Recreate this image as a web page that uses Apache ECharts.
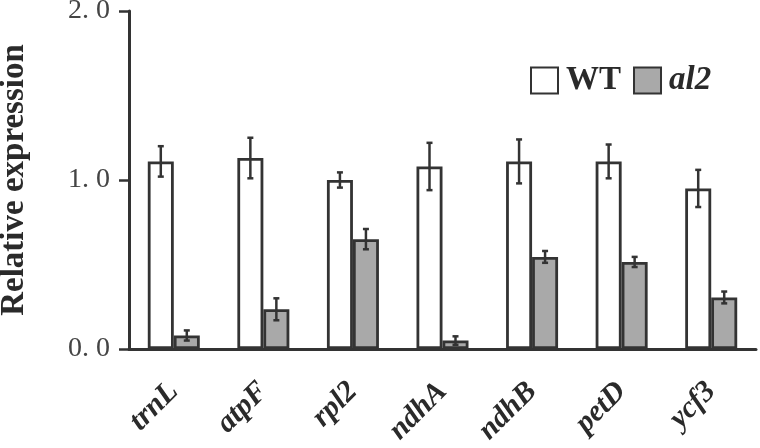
<!DOCTYPE html>
<html>
<head>
<meta charset="utf-8">
<script src="https://cdn.jsdelivr.net/npm/echarts@6/dist/echarts.min.js"></script>
<style>
  html, body { margin: 0; padding: 0; background: #fff; }
  #chart { width: 760px; height: 448px; }
</style>
</head>
<body>
<div id="chart"></div>
<script>
// genes on the x axis
var genes = ["trnL", "atpF", "rpl2", "ndhA", "ndhB", "petD", "ycf3"];
// relative expression
var wtValues = [1.11, 1.13, 1.00, 1.08, 1.11, 1.11, 0.95];
var wtErrors = [0.09, 0.12, 0.045, 0.14, 0.13, 0.10, 0.11];
var al2Values = [0.08, 0.235, 0.65, 0.05, 0.545, 0.515, 0.305];
var al2Errors = [0.03, 0.065, 0.06, 0.025, 0.035, 0.03, 0.035];
var yTicks = ["0. 0", "1. 0", "2. 0"];

var ink = "#333";
var serif = '"Liberation Serif", "Times New Roman", serif';
var barW = 26;

function errorSeries(values, errors, side) {
  return {
    type: "custom",
    z: 5,
    silent: true,
    data: values.map(function (v, i) { return [i, v, errors[i]]; }),
    renderItem: function (params, api) {
      var mid = api.coord([api.value(0), api.value(1)]);
      var hi = api.coord([api.value(0), api.value(1) + api.value(2)]);
      var lo = api.coord([api.value(0), api.value(1) - api.value(2)]);
      var x = mid[0] + side * barW / 2;
      var style = { stroke: ink, lineWidth: 2.5 };
      return {
        type: "group",
        children: [
          { type: "line", shape: { x1: x, y1: hi[1], x2: x, y2: lo[1] }, style: style },
          { type: "line", shape: { x1: x - 3, y1: hi[1], x2: x + 3, y2: hi[1] }, style: style },
          { type: "line", shape: { x1: x - 3, y1: lo[1], x2: x + 3, y2: lo[1] }, style: style }
        ]
      };
    }
  };
}

var chart = echarts.init(document.getElementById("chart"));
var option = {
  animation: false,
  textStyle: { fontFamily: serif },
  grid: { left: 129, right: 4, top: 11, bottom: 99, containLabel: false, outerBoundsMode: "none" },
  legend: {
    left: 525,
    top: 59,
    itemWidth: 27,
    itemHeight: 26,
    itemGap: 12,
    icon: "rect",
    data: ["WT", "al2"],
    formatter: function (name) {
      return name === "WT" ? "{b|WT}" : "{bi|al2}";
    },
    textStyle: {
      padding: [0, 0, 0, 3],
      rich: {
        b: { fontFamily: serif, fontWeight: "bold", fontSize: 33, color: "#2a2a2a" },
        bi: { fontFamily: serif, fontWeight: "bold", fontStyle: "italic", fontSize: 33, color: "#2a2a2a" }
      }
    }
  },
  xAxis: {
    type: "category",
    data: genes,
    axisLine: { lineStyle: { color: ink, width: 3 } },
    axisTick: { length: 12, lineStyle: { color: ink, width: 2.5 } },
    axisLabel: {
      rotate: 45,
      margin: 38,
      fontFamily: serif,
      fontStyle: "italic",
      fontWeight: "bold",
      fontSize: 30,
      color: "#2a2a2a"
    }
  },
  yAxis: {
    type: "value",
    min: 0,
    max: 2,
    interval: 1,
    name: "Relative expression",
    nameLocation: "middle",
    nameGap: 98,
    nameTextStyle: { fontFamily: serif, fontWeight: "bold", fontSize: 33, color: "#2a2a2a" },
    splitLine: { show: false },
    axisLine: { show: true, lineStyle: { color: ink, width: 3 } },
    axisTick: { show: true, length: 10, lineStyle: { color: ink, width: 2.5 } },
    axisLabel: {
      margin: 19,
      fontFamily: serif,
      fontSize: 28,
      color: "#444",
      formatter: function (v) { return yTicks[Math.round(v)]; }
    }
  },
  series: [
    {
      name: "WT",
      type: "bar",
      barWidth: barW,
      barGap: "0%",
      data: wtValues,
      itemStyle: { color: "#fff", borderColor: ink, borderWidth: 2.8 }
    },
    {
      name: "al2",
      type: "bar",
      barWidth: barW,
      data: al2Values,
      itemStyle: { color: "#a9a9a9", borderColor: ink, borderWidth: 2.8 }
    },
    errorSeries(wtValues, wtErrors, -1),
    errorSeries(al2Values, al2Errors, 1)
  ]
};
chart.setOption(option);
window.addEventListener("resize", function () {
  chart.resize();
});
</script>
</body>
</html>
